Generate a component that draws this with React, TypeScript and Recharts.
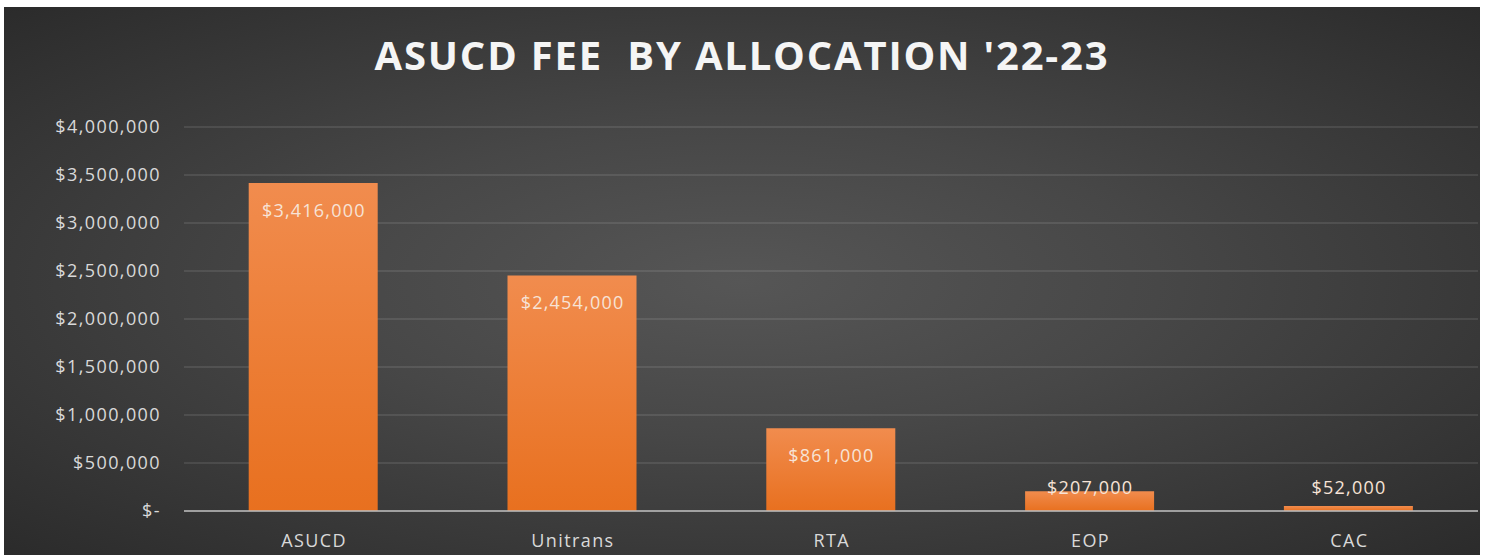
import React from "react";
import { BarChart, Bar, XAxis, YAxis, CartesianGrid } from "recharts";

const categories = ["ASUCD", "Unitrans", "RTA", "EOP", "CAC"];
const fees = [3416000, 2454000, 861000, 207000, 52000];
const yTicks = [0, 500000, 1000000, 1500000, 2000000, 2500000, 3000000, 3500000, 4000000];
const title = "ASUCD FEE\u00a0\u00a0BY ALLOCATION '22-23";

const data = categories.map((name, i) => ({ name, value: fees[i] }));

const fmt = (v: number) => (v === 0 ? "$-" : "$" + v.toLocaleString("en-US"));

const FONT = "'Open Sans', sans-serif";

const renderLabel = (props: any) => {
  const { x, y, width, height, value } = props;
  const cy = Math.min(y + 27, y + height - 24);
  return (
    <text
      x={x + width / 2 + 0.6}
      y={cy}
      textAnchor="middle"
      dominantBaseline="central"
      fill="#f7e3d6"
      fontSize={18}
      letterSpacing={1.2}
      fontFamily={FONT}
    >
      {fmt(value)}
    </text>
  );
};

export default function App() {
  return (
    <div style={{ position: "relative", width: 1486, height: 555, background: "#fff", overflow: "hidden" }}>
      <style>{`body{margin:0}`}</style>
      <div
        style={{
          position: "absolute",
          left: 4,
          top: 7,
          width: 1476,
          height: 548,
          background:
            "radial-gradient(ellipse at 50% 50%, #565656 0%, #474747 40%, #2b2b2b 100%)",
        }}
      >
        <div
          style={{
            position: "absolute",
            left: 0,
            width: 1476,
            top: 24,
            textAlign: "center",
            color: "#f5f5f5",
            fontFamily: FONT,
            fontWeight: 700,
            fontSize: 40,
            letterSpacing: 1.8,
            lineHeight: "48px",
          }}
        >
          {title}
        </div>
        <BarChart
          width={1476}
          height={548}
          data={data}
          margin={{ top: 120, right: 2, bottom: 14, left: 0 }}
          barCategoryGap="25%"
          style={{ position: "absolute", left: 0, top: 0 }}
        >
          <defs>
            <linearGradient id="barFill" x1="0" y1="0" x2="0" y2="1">
              <stop offset="0%" stopColor="#f18c4e" />
              <stop offset="100%" stopColor="#e8701f" />
            </linearGradient>
          </defs>
          <CartesianGrid vertical={false} stroke="rgba(255,255,255,0.13)" strokeWidth={1.5} />
          <XAxis
            dataKey="name"
            height={30}
            axisLine={{ stroke: "#bdbdbd", strokeWidth: 1.5 }}
            tickLine={false}
            tickSize={0}
            tickMargin={23}
            tick={{ fill: "#d9d9d9", fontSize: 18, fontFamily: FONT, letterSpacing: 1.4, dx: 0.7 }}
          />
          <YAxis
            width={180}
            domain={[0, 4000000]}
            ticks={yTicks}
            tickFormatter={fmt}
            axisLine={false}
            tickLine={false}
            tickSize={0}
            tickMargin={23}
            tick={{ fill: "#d9d9d9", fontSize: 18, fontFamily: FONT, letterSpacing: 1.4 }}
          />
          <Bar dataKey="value" fill="url(#barFill)" isAnimationActive={false} label={renderLabel} />
        </BarChart>
      </div>
    </div>
  );
}
